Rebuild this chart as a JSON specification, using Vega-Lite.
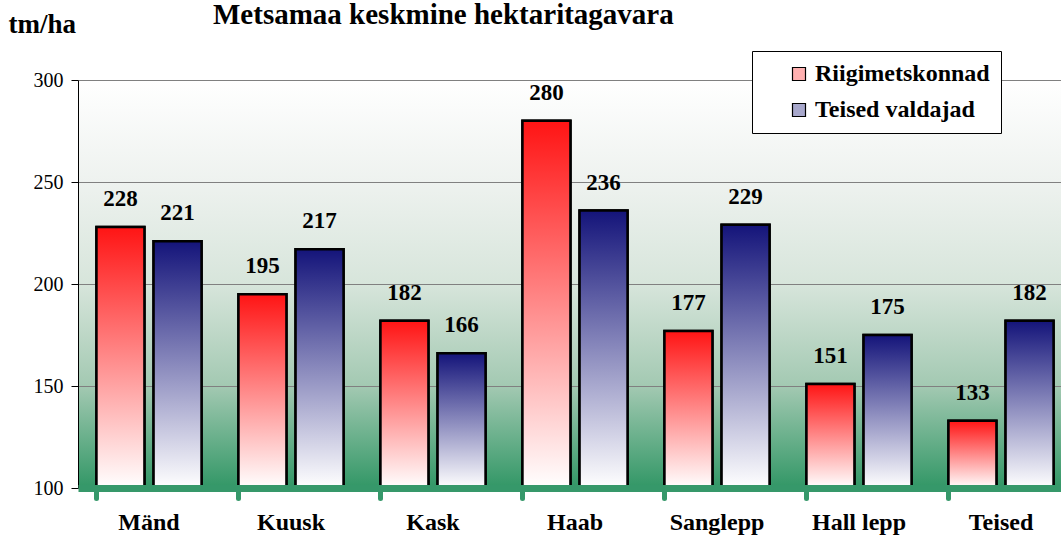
{
  "$schema": "https://vega.github.io/schema/vega-lite/v6.json",
  "width": 983,
  "height": 408,
  "autosize": {"type": "none"},
  "padding": {"left": 78, "top": 80, "right": 0, "bottom": 51},
  "background": "white",
  "title": {
    "text": "Metsamaa keskmine hektaritagavara",
    "anchor": "start",
    "dx": 205,
    "offset": -20,
    "font": "Liberation Serif",
    "fontSize": 29,
    "fontWeight": "bold",
    "color": "black"
  },
  "config": {
    "view": {
      "stroke": null,
      "fill": {
        "gradient": "linear", "x1": 0, "y1": 0, "x2": 0, "y2": 1,
        "stops": [
          {"offset": 0, "color": "#ffffff"},
          {"offset": 0.25, "color": "#eef2ef"},
          {"offset": 0.5, "color": "#d7e5db"},
          {"offset": 0.75, "color": "#a3c9b2"},
          {"offset": 1, "color": "#329766"}
        ]
      }
    },
    "font": "Liberation Serif"
  },
  "data": {
    "values": [
      {"puuliik": "Mänd", "valdaja": "Riigimetskonnad", "tagavara": 228},
      {"puuliik": "Mänd", "valdaja": "Teised valdajad", "tagavara": 221},
      {"puuliik": "Kuusk", "valdaja": "Riigimetskonnad", "tagavara": 195},
      {"puuliik": "Kuusk", "valdaja": "Teised valdajad", "tagavara": 217},
      {"puuliik": "Kask", "valdaja": "Riigimetskonnad", "tagavara": 182},
      {"puuliik": "Kask", "valdaja": "Teised valdajad", "tagavara": 166},
      {"puuliik": "Haab", "valdaja": "Riigimetskonnad", "tagavara": 280},
      {"puuliik": "Haab", "valdaja": "Teised valdajad", "tagavara": 236},
      {"puuliik": "Sanglepp", "valdaja": "Riigimetskonnad", "tagavara": 177},
      {"puuliik": "Sanglepp", "valdaja": "Teised valdajad", "tagavara": 229},
      {"puuliik": "Hall lepp", "valdaja": "Riigimetskonnad", "tagavara": 151},
      {"puuliik": "Hall lepp", "valdaja": "Teised valdajad", "tagavara": 175},
      {"puuliik": "Teised", "valdaja": "Riigimetskonnad", "tagavara": 133},
      {"puuliik": "Teised", "valdaja": "Teised valdajad", "tagavara": 182}
    ]
  },
  "encoding": {
    "x": {
      "field": "puuliik",
      "type": "nominal",
      "sort": null,
      "scale": {"range": [0, 994], "paddingInner": 0.26, "paddingOuter": 0.13},
      "axis": {
        "title": null,
        "labelAngle": 0,
        "labelFont": "Liberation Serif",
        "labelFontSize": 24,
        "labelFontWeight": "bold",
        "labelColor": "black",
        "labelPadding": 12,
        "bandPosition": 0,
        "domainColor": "#36986a",
        "domainWidth": 7,
        "tickColor": "#36986a",
        "tickWidth": 5,
        "tickSize": 10,
        "tickCap": "round",
        "grid": false,
        "zindex": 1
      }
    },
    "xOffset": {
      "field": "valdaja",
      "type": "nominal",
      "scale": {"paddingInner": 0.16, "paddingOuter": 0}
    },
    "y": {
      "field": "tagavara",
      "type": "quantitative",
      "scale": {"domain": [100, 300], "zero": false, "nice": false},
      "axis": {
        "title": "tm/ha",
        "titleAngle": 0,
        "titleAlign": "left",
        "titleBaseline": "alphabetic",
        "titleX": -70,
        "titleY": -48,
        "titleFont": "Liberation Serif",
        "titleFontSize": 27,
        "titleFontWeight": "bold",
        "titleColor": "black",
        "values": [100, 150, 200, 250, 300],
        "labelFont": "Liberation Serif",
        "labelFontSize": 20,
        "labelColor": "black",
        "labelPadding": 8,
        "domainColor": "black",
        "domainWidth": 1,
        "tickColor": "black",
        "tickSize": 7,
        "gridColor": "#808080",
        "gridWidth": 1
      }
    }
  },
  "layer": [
    {
      "mark": {"type": "bar", "stroke": "black", "strokeWidth": 2.5},
      "encoding": {
        "y2": {"datum": 100},
        "fill": {
          "field": "valdaja",
          "type": "nominal",
          "scale": {
            "domain": ["Riigimetskonnad", "Teised valdajad"],
            "range": ["#ffb0b0", "#a8a8cc"]
          },
          "legend": {
            "title": null,
            "orient": "none",
            "legendX": 674,
            "legendY": -29,
            "fillColor": "white",
            "strokeColor": "black",
            "padding": 11,
            "symbolOffset": 24,
            "symbolType": "square",
            "symbolSize": 169,
            "symbolStrokeColor": "black",
            "symbolStrokeWidth": 1.2,
            "labelFont": "Liberation Serif",
            "labelFontSize": 24,
            "labelFontWeight": "bold",
            "labelColor": "black",
            "labelOffset": 4,
            "labelLimit": 400,
            "rowPadding": 12
          }
        }
      }
    },
    {
      "mark": {"type": "bar", "stroke": "black", "strokeWidth": 2.5},
      "encoding": {
        "y2": {"datum": 100},
        "fill": {
          "condition": {
            "test": "datum.valdaja === 'Riigimetskonnad'",
            "value": {"gradient": "linear", "x1": 0, "y1": 0, "x2": 0, "y2": 1,
               "stops": [{"offset": 0, "color": "#ff1414"}, {"offset": 1, "color": "#ffffff"}]}
          },
          "value": {"gradient": "linear", "x1": 0, "y1": 0, "x2": 0, "y2": 1,
               "stops": [{"offset": 0, "color": "#14147a"}, {"offset": 1, "color": "#ffffff"}]}
        }
      }
    },
    {
      "mark": {"type": "text", "dy": -21, "baseline": "alphabetic", "font": "Liberation Serif", "fontSize": 23, "fontWeight": "bold", "color": "black"},
      "encoding": {
        "text": {"field": "tagavara", "type": "quantitative"}
      }
    }
  ]
}
